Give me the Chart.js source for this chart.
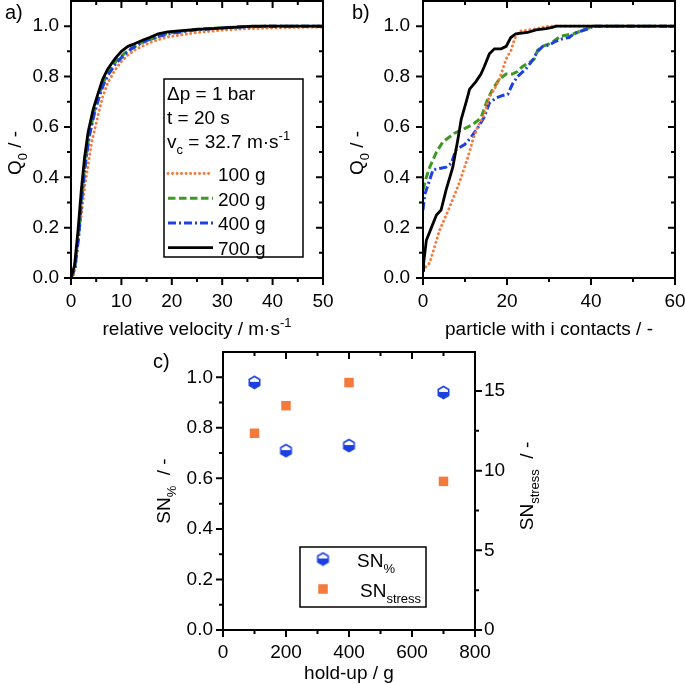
<!DOCTYPE html>
<html>
<head>
<meta charset="utf-8">
<script src="https://cdn.jsdelivr.net/npm/chart.js@4.4.1/dist/chart.umd.min.js"></script>
<style>
  html, body { margin: 0; padding: 0; background: #fff; }
  #wrap { position: relative; width: 685px; height: 684px; overflow: hidden; }
  canvas { position: absolute; }
</style>
</head>
<body>
<div id="wrap">
  <canvas id="chartA" width="340" height="345" style="left:0;top:0"></canvas>
  <canvas id="chartB" width="345" height="345" style="left:340px;top:0"></canvas>
  <canvas id="chartC" width="420" height="339" style="left:145px;top:345px"></canvas>
</div>
<script>
// ── data ─────────────────────────────────────────────────────────────────────
// a) Q0 over relative velocity
const velX_100 = [0, 0.5, 0.85, 1.4, 2.05, 2.7, 3.4, 4.1, 4.6, 5.4, 6.3, 7.3, 8.7, 10, 11.3, 12.6, 14.3, 15.9, 17.6, 19.2, 22, 25, 30, 35, 40, 45, 50];
const velQ_100 = [0, 0.01, 0.05, 0.15, 0.25, 0.36, 0.45, 0.54, 0.58, 0.65, 0.72, 0.775, 0.825, 0.86, 0.885, 0.905, 0.922, 0.937, 0.948, 0.957, 0.966, 0.975, 0.984, 0.99, 0.993, 0.995, 0.996];
const velX_200 = [0, 0.8, 1.5, 2.2, 2.9, 3.6, 4.6, 5.6, 6.5, 7.5, 9, 10.5, 12, 13.5, 15, 16.5, 18, 20, 25, 30, 35, 40, 50];
const velQ_200 = [0, 0.045, 0.17, 0.34, 0.47, 0.57, 0.66, 0.73, 0.78, 0.82, 0.862, 0.89, 0.912, 0.93, 0.944, 0.952, 0.966, 0.975, 0.988, 0.994, 0.998, 1.0, 1.0];
const velX_400 = [0, 0.8, 1.5, 2.2, 2.9, 3.6, 4.6, 5.6, 6.5, 7.5, 9, 10.5, 12, 13.5, 15, 17, 20, 25, 30, 35, 40, 50];
const velQ_400 = [0, 0.04, 0.16, 0.33, 0.46, 0.56, 0.65, 0.72, 0.77, 0.81, 0.855, 0.885, 0.91, 0.928, 0.943, 0.958, 0.972, 0.986, 0.993, 0.998, 1.0, 1.0];
const velX_700 = [0, 0.7, 1.4, 2.05, 2.7, 3.4, 4.4, 5.4, 6.3, 7.3, 8.7, 10, 11.3, 12.6, 14.3, 15.6, 17.3, 19.2, 22, 25, 28, 32, 36, 50];
const velQ_700 = [0, 0.05, 0.19, 0.35, 0.48, 0.58, 0.67, 0.735, 0.79, 0.83, 0.87, 0.9, 0.92, 0.93, 0.945, 0.955, 0.97, 0.977, 0.982, 0.987, 0.99, 0.995, 1.0, 1.0];

// b) Q0 over number of contacts
const conX_100 = [0, 0.4, 1.6, 3.95, 6.3, 8.7, 10.7, 11.9, 13, 14.6, 15.8, 17, 18.2, 19.8, 21, 21.8, 23, 26, 30, 60];
const conQ_100 = [0.03, 0.04, 0.06, 0.19, 0.28, 0.38, 0.48, 0.55, 0.6, 0.65, 0.72, 0.75, 0.79, 0.87, 0.905, 0.95, 0.98, 0.987, 1.0, 1.0];
const conX_200 = [0, 0.8, 1.6, 3.2, 4.7, 6.3, 7.5, 9.5, 11.9, 13.8, 15.4, 16.6, 18.2, 19.8, 21.3, 22.5, 23.7, 25.3, 26.5, 27.3, 28.5, 30, 31.1, 32.7, 34.3, 35.9, 37.5, 39, 40.6, 60];
const conQ_200 = [0.35, 0.4, 0.44, 0.5, 0.54, 0.56, 0.575, 0.59, 0.61, 0.635, 0.71, 0.75, 0.79, 0.81, 0.81, 0.82, 0.84, 0.855, 0.87, 0.905, 0.92, 0.93, 0.94, 0.96, 0.965, 0.97, 0.98, 0.99, 1.0, 1.0];
const conX_400 = [0, 0.4, 1.2, 2.4, 3.95, 5.5, 6.7, 7.9, 9.9, 11.5, 13, 14.6, 15.8, 17.4, 19, 20.2, 21.3, 22.5, 24.5, 26.1, 27.3, 28.5, 30, 31.6, 33.2, 34.8, 35.9, 37.5, 39.4, 40.6, 60];
const conQ_400 = [0.27, 0.33, 0.37, 0.43, 0.435, 0.44, 0.455, 0.51, 0.53, 0.56, 0.595, 0.64, 0.695, 0.715, 0.725, 0.73, 0.77, 0.8, 0.83, 0.865, 0.9, 0.92, 0.925, 0.94, 0.95, 0.955, 0.97, 0.98, 0.99, 1.0, 1.0];
const conX_700 = [0, 0.15, 0.8, 2, 3.2, 4.3, 5.5, 7.1, 8.3, 9.1, 10.3, 11.1, 12.6, 13.8, 14.6, 15.8, 17, 18.6, 19.8, 20.9, 22.1, 24.9, 26.9, 29.3, 30.8, 31.6, 60];
const conQ_700 = [0.03, 0.06, 0.15, 0.2, 0.25, 0.27, 0.35, 0.44, 0.55, 0.63, 0.7, 0.75, 0.78, 0.81, 0.84, 0.89, 0.91, 0.91, 0.92, 0.955, 0.97, 0.975, 0.985, 0.99, 0.995, 1.0, 1.0];

// c) stress numbers over hold-up
const holdUp   = [100, 200, 400, 700];
const snPct    = [0.98, 0.71, 0.73, 0.94];
const snStress = [12.35, 14.08, 15.53, 9.33];

// tick values
const velTicks = [0, 10, 20, 30, 40, 50],  velMinor = [5, 15, 25, 35, 45];
const conTicks = [0, 20, 40, 60],          conMinor = [10, 30, 50];
const qTicks   = [0, 0.2, 0.4, 0.6, 0.8, 1.0], qMinor = [0.1, 0.3, 0.5, 0.7, 0.9];
const holdTicks = [0, 200, 400, 600, 800], holdMinor = [100, 300, 500, 700];
const stressTicks = [0, 5, 10, 15],        stressMinor = [2.5, 7.5, 12.5];

// ── styling ──────────────────────────────────────────────────────────────────
const FONT = '"Liberation Sans", Arial, Helvetica, sans-serif';
const FS = 19;
const ORANGE = '#f5793a', GREEN = '#3c9a22', BLUE = '#1d40e2', BLACK = '#000';

Chart.defaults.font.family = FONT;
Chart.defaults.font.size = FS;
Chart.defaults.color = '#000';

const pts = (xs, ys) => xs.map((x, i) => ({ x, y: ys[i] }));
const toTicks = vals => s => { s.ticks = vals.map(v => ({ value: v })); };

const lineStyles = {
  g100: { borderColor: ORANGE, borderWidth: 2.9, borderDash: [0.1, 4.4], borderCapStyle: 'round' },
  g200: { borderColor: GREEN,  borderWidth: 3, borderDash: [7.5, 3.5] },
  g400: { borderColor: BLUE,   borderWidth: 3, borderDash: [8, 3, 2, 3] },
  g700: { borderColor: BLACK,  borderWidth: 2.8 },
};

function curve(xs, ys, style) {
  return Object.assign({ data: pts(xs, ys), showLine: true, pointRadius: 0, tension: 0, fill: false }, style);
}

// rich text with sub / superscripts; y is the baseline
function rich(ctx, parts, x, y, align, rot, size) {
  const fs = size || FS, small = Math.round(fs * 0.68);
  ctx.save();
  ctx.translate(x, y);
  if (rot) ctx.rotate(rot);
  let w = 0;
  const segs = parts.map(p => {
    const sz = p.s ? small : fs;
    ctx.font = sz + 'px ' + FONT;
    const seg = { t: p.t, sz, x: w, dy: p.s === 'sub' ? fs * 0.3 : p.s === 'sup' ? -fs * 0.42 : 0 };
    w += ctx.measureText(p.t).width;
    return seg;
  });
  const x0 = align === 'center' ? -w / 2 : 0;
  ctx.fillStyle = '#000';
  ctx.textAlign = 'left';
  ctx.textBaseline = 'alphabetic';
  segs.forEach(s => { ctx.font = s.sz + 'px ' + FONT; ctx.fillText(s.t, x0 + s.x, s.dy); });
  ctx.restore();
}

function frame(ctx, a) {
  ctx.strokeStyle = '#000';
  ctx.lineWidth = 2;
  ctx.strokeRect(a.left, a.top, a.right - a.left, a.bottom - a.top);
}
function ticksX(ctx, scale, vals, edge, dir, len) {
  ctx.beginPath();
  vals.forEach(v => { const p = scale.getPixelForValue(v); ctx.moveTo(p, edge); ctx.lineTo(p, edge + dir * len); });
  ctx.lineWidth = 2; ctx.strokeStyle = '#000'; ctx.stroke();
}
function ticksY(ctx, scale, vals, edge, dir, len) {
  ctx.beginPath();
  vals.forEach(v => { const p = scale.getPixelForValue(v); ctx.moveTo(edge, p); ctx.lineTo(edge + dir * len, p); });
  ctx.lineWidth = 2; ctx.strokeStyle = '#000'; ctx.stroke();
}

const MAJ = 7, MIN = 4;
const decor = draw => ({ id: 'decor', afterDraw(chart) { const ctx = chart.ctx; ctx.save(); draw(chart, ctx, chart.chartArea); ctx.restore(); } });

function axisX(min, max, major, height, pad) {
  return {
    type: 'linear', min, max,
    afterBuildTicks: toTicks(major),
    afterFit: s => { s.height = height; s.paddingLeft = 0; s.paddingRight = 0; },
    grid: { display: false, drawTicks: false }, border: { display: false },
    ticks: { padding: pad, autoSkip: false, maxRotation: 0, callback: v => String(v) }
  };
}
function axisY(min, max, major, width, pad, fmt, pos) {
  return {
    type: 'linear', min, max, position: pos || 'left',
    afterBuildTicks: toTicks(major),
    afterFit: s => { s.width = width; s.paddingTop = 0; s.paddingBottom = 0; },
    grid: { display: false, drawTicks: false }, border: { display: false },
    ticks: { padding: pad, autoSkip: false, callback: fmt }
  };
}
const fmt1 = v => v.toFixed(1);

function legendLine(ctx, style, x1, x2, y) {
  ctx.save();
  ctx.beginPath();
  ctx.strokeStyle = style.borderColor;
  ctx.lineWidth = style.borderWidth;
  ctx.setLineDash(style.borderDash || []);
  ctx.lineCap = style.borderCapStyle || 'butt';
  ctx.moveTo(x1, y); ctx.lineTo(x2, y); ctx.stroke();
  ctx.restore();
}

// half filled hexagon marker
function hexMarker(r, color) {
  const c = document.createElement('canvas');
  const w = Math.ceil(2 * r + 3);
  c.width = w; c.height = w;
  const g = c.getContext('2d');
  const cx = w / 2, cy = w / 2;
  g.beginPath();
  for (let i = 0; i < 6; i++) {
    const a = -Math.PI / 2 + i * Math.PI / 3;
    const px = cx + r * Math.cos(a), py = cy + r * Math.sin(a);
    i ? g.lineTo(px, py) : g.moveTo(px, py);
  }
  g.closePath();
  g.fillStyle = '#fff'; g.fill();
  g.save(); g.clip(); g.fillStyle = color; g.fillRect(0, cy - 0.5, w, w); g.restore();
  g.lineWidth = 1.6; g.strokeStyle = color; g.stroke();
  return c;
}
const HEX = hexMarker(6, BLUE);

// ── a) ───────────────────────────────────────────────────────────────────────
new Chart(document.getElementById('chartA'), {
  type: 'scatter',
  data: { datasets: [
    curve(velX_700, velQ_700, lineStyles.g700),
    curve(velX_400, velQ_400, lineStyles.g400),
    curve(velX_200, velQ_200, lineStyles.g200),
    curve(velX_100, velQ_100, lineStyles.g100),
  ] },
  options: {
    responsive: false, animation: false,
    layout: { padding: { top: 1, right: 17, left: 0, bottom: 0 } },
    plugins: { legend: { display: false }, tooltip: { enabled: false } },
    scales: {
      x: axisX(0, 50, velTicks, 67, 12),
      y: axisY(0, 1.1, qTicks, 71, 12, fmt1),
    }
  },
  plugins: [decor((chart, ctx, a) => {
    const sx = chart.scales.x, sy = chart.scales.y;
    frame(ctx, a);
    ticksX(ctx, sx, velTicks, a.bottom, 1, MAJ); ticksX(ctx, sx, velMinor, a.bottom, 1, MIN);
    ticksX(ctx, sx, velTicks, a.top, 1, MAJ);    ticksX(ctx, sx, velMinor, a.top, 1, MIN);
    ticksY(ctx, sy, qTicks, a.left, -1, MAJ);    ticksY(ctx, sy, qMinor, a.left, -1, MIN);
    ticksY(ctx, sy, qTicks, a.right, -1, MAJ);   ticksY(ctx, sy, qMinor, a.right, -1, MIN);

    rich(ctx, [{ t: 'a)' }], 5, 19, 'left', 0, 20);
    rich(ctx, [{ t: 'relative velocity / m·s' }, { t: '-1', s: 'sup' }], (a.left + a.right) / 2, 335, 'center');
    rich(ctx, [{ t: 'Q' }, { t: '0', s: 'sub' }, { t: ' / -' }], 21, 153, 'center', -Math.PI / 2);

    // legend box
    ctx.lineWidth = 1.5; ctx.strokeStyle = '#000';
    ctx.strokeRect(164, 79, 139, 178);
    rich(ctx, [{ t: 'Δp = 1 bar' }], 167, 100, 'left');
    rich(ctx, [{ t: 't = 20 s' }], 167, 124, 'left');
    rich(ctx, [{ t: 'v' }, { t: 'c', s: 'sub' }, { t: ' = 32.7 m·s' }, { t: '-1', s: 'sup' }], 167, 148, 'left');
    const entries = [['100 g', lineStyles.g100], ['200 g', lineStyles.g200], ['400 g', lineStyles.g400], ['700 g', lineStyles.g700]];
    entries.forEach(([label, st], i) => {
      const base = 181 + i * 24.7;
      legendLine(ctx, st, 168, 213, base - 7.5);
      rich(ctx, [{ t: label }], 218, base, 'left');
    });
  })]
});

// ── b) ───────────────────────────────────────────────────────────────────────
new Chart(document.getElementById('chartB'), {
  type: 'scatter',
  data: { datasets: [
    curve(conX_700, conQ_700, lineStyles.g700),
    curve(conX_100, conQ_100, lineStyles.g100),
    curve(conX_400, conQ_400, lineStyles.g400),
    curve(conX_200, conQ_200, lineStyles.g200),
  ] },
  options: {
    responsive: false, animation: false,
    layout: { padding: { top: 1, right: 10, left: 0, bottom: 0 } },
    plugins: { legend: { display: false }, tooltip: { enabled: false } },
    scales: {
      x: axisX(0, 60, conTicks, 67, 12),
      y: axisY(0, 1.1, qTicks, 83, 13, fmt1),
    }
  },
  plugins: [decor((chart, ctx, a) => {
    const sx = chart.scales.x, sy = chart.scales.y;
    frame(ctx, a);
    ticksX(ctx, sx, conTicks, a.bottom, 1, MAJ); ticksX(ctx, sx, conMinor, a.bottom, 1, MIN);
    ticksX(ctx, sx, conTicks, a.top, 1, MAJ);    ticksX(ctx, sx, conMinor, a.top, 1, MIN);
    ticksY(ctx, sy, qTicks, a.left, -1, MAJ);    ticksY(ctx, sy, qMinor, a.left, -1, MIN);
    ticksY(ctx, sy, qTicks, a.right, -1, MAJ);   ticksY(ctx, sy, qMinor, a.right, -1, MIN);

    rich(ctx, [{ t: 'b)' }], 12, 19, 'left', 0, 20);
    rich(ctx, [{ t: 'particle with i contacts / -' }], (a.left + a.right) / 2, 335, 'center');
    rich(ctx, [{ t: 'Q' }, { t: '0', s: 'sub' }, { t: ' / -' }], 23, 153, 'center', -Math.PI / 2);
  })]
});

// ── c) ───────────────────────────────────────────────────────────────────────
new Chart(document.getElementById('chartC'), {
  type: 'scatter',
  data: { datasets: [
    { data: pts(holdUp, snPct), yAxisID: 'y', pointStyle: HEX, pointRadius: 6 },
    { data: pts(holdUp, snStress), yAxisID: 'y2', pointStyle: 'rect', pointRadius: 6.7,
      backgroundColor: ORANGE, borderColor: ORANGE, borderWidth: 0 },
  ] },
  options: {
    responsive: false, animation: false,
    layout: { padding: { top: 7, right: 0, left: 0, bottom: 0 } },
    plugins: { legend: { display: false }, tooltip: { enabled: false } },
    scales: {
      x: axisX(0, 800, holdTicks, 54, 11),
      y: axisY(0, 1.1, qTicks, 78, 10, fmt1),
      y2: axisY(0, 17.45, stressTicks, 90, 9, v => String(v), 'right'),
    }
  },
  plugins: [decor((chart, ctx, a) => {
    const sx = chart.scales.x, sy = chart.scales.y, s2 = chart.scales.y2;
    frame(ctx, a);
    ticksX(ctx, sx, holdTicks, a.bottom, 1, MAJ);    ticksX(ctx, sx, holdMinor, a.bottom, 1, MIN);
    ticksX(ctx, sx, holdTicks, a.top, 1, MAJ);       ticksX(ctx, sx, holdMinor, a.top, 1, MIN);
    ticksY(ctx, sy, qTicks, a.left, -1, MAJ);        ticksY(ctx, sy, qMinor, a.left, -1, MIN);
    ticksY(ctx, s2, stressTicks, a.right, 1, MAJ);   ticksY(ctx, s2, stressMinor, a.right, 1, MIN);

    rich(ctx, [{ t: 'c)' }], 8, 23, 'left', 0, 20);
    rich(ctx, [{ t: 'hold-up / g' }], (a.left + a.right) / 2, 334, 'center');
    rich(ctx, [{ t: 'SN' }, { t: '%', s: 'sub' }, { t: '  / -' }], 25, 146, 'center', -Math.PI / 2);
    rich(ctx, [{ t: 'SN' }, { t: 'stress', s: 'sub' }, { t: '  / -' }], 388, 141, 'center', -Math.PI / 2);

    // legend box
    ctx.lineWidth = 1.5; ctx.strokeStyle = '#000';
    ctx.strokeRect(155, 202, 126, 60);
    ctx.drawImage(HEX, 178 - HEX.width / 2, 214 - HEX.height / 2);
    ctx.fillStyle = ORANGE;
    ctx.fillRect(178 - 4.75, 244 - 4.75, 9.5, 9.5);
    rich(ctx, [{ t: 'SN' }, { t: '%', s: 'sub' }], 212, 222, 'left');
    rich(ctx, [{ t: 'SN' }, { t: 'stress', s: 'sub' }], 215, 252, 'left');
  })]
});
</script>
</body>
</html>
